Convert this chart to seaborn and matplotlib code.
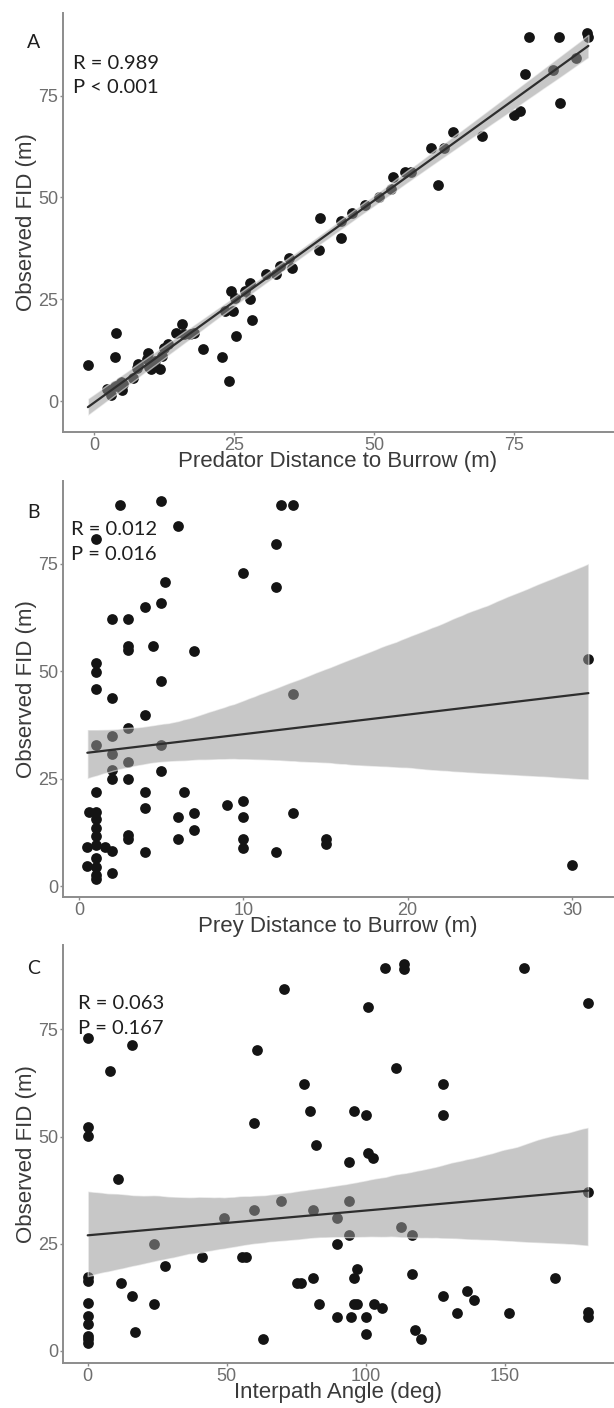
import numpy as np
import pandas as pd
import seaborn as sns
import matplotlib.pyplot as plt

# panel A: predator distance to burrow vs observed FID
pred_dist = [-1.1, 3.9, 3.7, 2.4, 3.1, 3.8, 5.0, 5.2, 6.9, 7.6, 7.9, 9.4, 9.7, 10.1,
             10.8, 11.8, 12.2, 12.5, 13.2, 14.7, 15.7, 16.0, 17.1, 17.8, 19.5, 22.9,
             23.4, 24.4, 24.1, 24.8, 25.1, 25.4, 26.9, 27.8, 27.8, 28.3, 30.7, 32.5,
             33.2, 34.9, 35.3, 40.2, 40.4, 44.1, 44.1, 46.0, 48.4, 50.9, 53.1, 53.4,
             55.6, 56.6, 60.1, 61.4, 62.5, 64.2, 69.3, 75.0, 76.1, 77.0, 77.7, 82.0,
             83.0, 83.3, 86.0, 88.0, 88.3, 9.8, 4.9]
pred_fid = [8.8, 16.8, 10.8, 2.9, 1.6, 3.7, 2.6, 4.1, 5.7, 8.2, 9.0, 10.2, 11.9, 7.8,
            9.8, 7.8, 11.0, 13.1, 13.9, 16.8, 18.8, 16.4, 16.4, 16.8, 12.8, 10.8,
            22.1, 27.0, 4.9, 22.1, 25.4, 16.0, 27.0, 25.0, 29.1, 20.0, 31.1, 31.3,
            33.1, 35.2, 32.7, 37.0, 45.0, 44.2, 40.1, 46.1, 48.1, 50.1, 52.0, 55.1,
            56.3, 56.3, 62.2, 53.0, 62.2, 66.0, 65.1, 70.2, 71.2, 80.2, 89.4, 81.3,
            89.4, 73.2, 84.3, 90.4, 89.4, 8.4, 4.7]

# panel B: prey distance to burrow vs observed FID
prey_dist = [2.5, 5.0, 6.0, 12.3, 13.0, 1.0, 12.0, 10.0, 12.0, 5.2, 4.0, 5.0, 2.0,
             3.0, 3.0, 3.0, 4.5, 7.0, 1.0, 1.0, 5.0, 1.0, 2.0, 13.0, 31.0, 4.0, 3.0,
             2.0, 1.0, 5.0, 2.0, 3.0, 2.0, 5.0, 2.0, 3.0, 1.0, 4.0, 6.4, 10.0, 9.0,
             4.0, 6.0, 7.0, 10.0, 13.0, 7.0, 3.0, 3.0, 6.0, 10.0, 10.0, 15.0, 15.0,
             12.0, 30.0, 0.6, 1.0, 1.0, 1.0, 1.0, 0.5, 1.0, 1.6, 2.0, 1.0, 0.5, 1.0,
             1.0, 1.0, 2.0, 4.0]
prey_fid = [88.7, 89.6, 83.7, 88.7, 88.7, 80.7, 79.6, 72.7, 69.6, 70.7, 64.8, 65.8,
            62.2, 62.2, 55.9, 54.9, 55.8, 54.7, 51.9, 49.7, 47.8, 45.8, 43.8, 44.7,
            52.8, 39.9, 36.8, 34.9, 32.8, 32.8, 30.8, 28.8, 27.0, 26.8, 24.9, 24.9,
            21.8, 21.8, 21.8, 19.9, 18.9, 18.1, 16.1, 17.1, 16.1, 17.1, 13.0, 12.0,
            10.9, 10.9, 10.9, 8.9, 10.9, 9.9, 7.9, 4.9, 17.3, 17.3, 15.5, 13.6, 11.6,
            9.2, 9.6, 9.2, 8.2, 6.5, 4.7, 4.5, 2.5, 1.7, 3.1, 8.0]

# panel C: interpath angle vs observed FID
angle = [107.0, 113.8, 113.8, 157.0, 70.8, 100.7, 180.0, 0, 15.9, 60.8, 8.0, 110.8,
         77.9, 127.9, 79.9, 95.8, 100.0, 127.9, 59.9, 0, 0, 82.0, 100.7, 102.8, 93.9,
         10.8, 180.0, 69.7, 93.9, 59.9, 81.0, 48.9, 89.7, 112.7, 116.5, 93.9, 23.9,
         89.7, 41.1, 55.6, 57.0, 27.9, 96.8, 0, 0, 12.0, 75.4, 76.8, 81.0, 95.8,
         116.6, 168.0, 15.9, 127.9, 136.3, 139.0, 0, 23.9, 83.1, 95.8, 96.8, 103.1,
         105.9, 132.8, 151.4, 180.0, 180.0, 89.7, 94.8, 100.0, 0, 0, 16.9, 100.0,
         117.9, 120.0, 63.0, 0, 0, 0]
angle_fid = [89.4, 90.3, 89.1, 89.4, 84.3, 80.3, 81.2, 73.1, 71.3, 70.2, 65.2, 66.1,
             62.2, 62.2, 56.0, 56.0, 55.0, 55.1, 53.1, 52.2, 50.1, 48.1, 46.2, 45.0,
             44.0, 40.0, 37.1, 34.9, 34.9, 32.9, 32.9, 30.9, 30.9, 28.9, 27.0, 27.0,
             24.9, 24.9, 21.9, 21.9, 21.9, 19.8, 19.1, 17.2, 16.4, 15.9, 15.9, 15.9,
             16.9, 16.9, 17.9, 16.9, 12.9, 12.9, 14.0, 11.9, 11.2, 10.9, 10.9, 10.9,
             10.9, 10.9, 9.9, 8.8, 8.8, 9.0, 7.8, 7.8, 7.8, 7.8, 8.2, 6.2, 4.4, 3.9,
             4.9, 2.8, 2.8, 3.5, 2.9, 1.9]

panel_letters = ["A", "B", "C"]
x_labels = ["Predator Distance to Burrow (m)", "Prey Distance to Burrow (m)",
            "Interpath Angle (deg)"]
stat_texts = ["R = 0.989\nP < 0.001", "R = 0.012\nP = 0.016", "R = 0.063\nP = 0.167"]
x_ticks = [[0, 25, 50, 75], [0, 10, 20, 30], [0, 50, 100, 150]]
y_ticks = [0, 25, 50, 75]

sns.set_style("ticks")
plt.rcParams["font.family"] = ["Liberation Sans", "DejaVu Sans"]

fig = plt.figure(figsize=(6.14, 14.08), dpi=100)

# axes boxes in figure fraction [left, bottom, width, height]
boxes = [[0.1021, 0.6932, 0.8963, 0.2976],
         [0.1021, 0.3627, 0.8963, 0.2957],
         [0.1021, 0.0320, 0.8963, 0.2969]]
xlims = [(-5.6, 92.7), (-1.0, 32.5), (-9.0, 189.0)]
ylims = [(-7.6, 95.3), (-2.6, 94.2), (-2.8, 94.7)]
ci_levels = [95, 85, 95]  # bootstrap band is wider than ggplot's, narrow B a bit
stat_pos = [(0.018, 0.851), (0.016, 0.853), (0.027, 0.830)]
letter_pos = [(0.054, 0.9697), (0.054, 0.6357), (0.055, 0.3123)]

data = [(pred_dist, pred_fid), (prey_dist, prey_fid), (angle, angle_fid)]

axis_grey = "#8c8c8c"
for i, (xs, ys) in enumerate(data):
    ax = fig.add_axes(boxes[i])
    df = pd.DataFrame({"x": xs, "y": ys})
    sns.regplot(data=df, x="x", y="y", ax=ax, ci=ci_levels[i], n_boot=2000, seed=3,
                color="#141414",
                scatter_kws=dict(s=60, linewidths=0, alpha=1),
                line_kws=dict(color="#2e2e2e", lw=1.6))
    # ggplot-like grey ribbon over the points
    for coll in ax.collections[1:]:
        coll.set_facecolor("#999999")
        coll.set_alpha(0.55)

    ax.set_xlim(*xlims[i])
    ax.set_ylim(*ylims[i])
    ax.set_xticks(x_ticks[i])
    ax.set_yticks(y_ticks)
    sns.despine(ax=ax)
    for side in ["left", "bottom"]:
        ax.spines[side].set_color(axis_grey)
        ax.spines[side].set_linewidth(1.4)
    ax.tick_params(length=2.5, width=1, color=axis_grey, pad=0.8,
                   labelsize=13, labelcolor="#6e6e6e")
    ax.set_xlabel(x_labels[i], fontsize=16, color="#3a3a3a", labelpad=-2)
    ax.set_ylabel("Observed FID (m)", fontsize=16, color="#3a3a3a", labelpad=1)

    ax.text(stat_pos[i][0], stat_pos[i][1], stat_texts[i], transform=ax.transAxes,
            ha="left", va="center", fontsize=14.5, family=["Lato", "DejaVu Sans"],
            color="#1e1e1e", linespacing=1.55)
    fig.text(letter_pos[i][0], letter_pos[i][1], panel_letters[i], ha="center",
             va="center", fontsize=14, family=["Lato", "DejaVu Sans"], color="#1e1e1e")

fig.savefig("out.png", dpi=100)
